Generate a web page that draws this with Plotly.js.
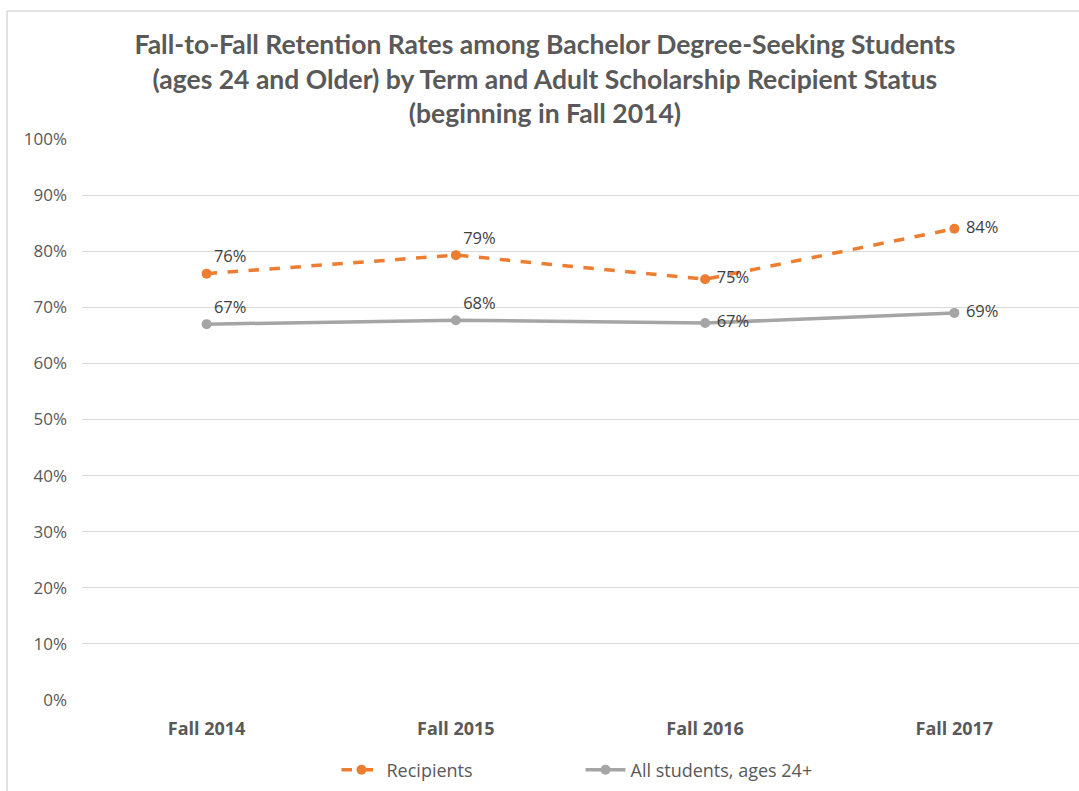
<!DOCTYPE html>
<html>
<head>
<meta charset="utf-8">
<script src="https://cdn.plot.ly/plotly-3.0.1.min.js"></script>
<style>html,body{margin:0;padding:0;background:#fff;}#chart{width:1079px;height:791px;}</style>
</head>
<body>
<div id="chart"></div>
<script>
const categories = ["Fall 2014", "Fall 2015", "Fall 2016", "Fall 2017"];
const recipients = [0.76, 0.793, 0.75, 0.84];
const allStudents = [0.67, 0.677, 0.672, 0.69];
const recipientsLabels = ["76%", "79%", "75%", "84%"];
const allStudentsLabels = ["67%", "68%", "67%", "69%"];
const labelPositions = ["top right", "top right", "middle right", "middle right"];
const yTickVals = [0, 0.1, 0.2, 0.3, 0.4, 0.5, 0.6, 0.7, 0.8, 0.9, 1.0];
const yTickText = ["0%", "10%", "20%", "30%", "40%", "50%", "60%", "70%", "80%", "90%", "100%"];

const font = "Open Sans, Noto Sans, sans-serif";
const textColor = "#595959";

// pad right-side labels slightly away from the marker
const pad = (labels) => labels.map((t, i) => labelPositions[i] === "middle right" ? "\u00a0" + t : t);

const traces = [
  {
    x: categories, y: recipients, name: "Recipients", type: "scatter", mode: "lines+markers+text",
    line: {color: "#ED7D31", width: 3.5, dash: "dash"},
    marker: {color: "#ED7D31", size: 10},
    text: pad(recipientsLabels), textposition: labelPositions,
    textfont: {family: font, size: 16.5, color: "#404040"},
    cliponaxis: false, hoverinfo: "skip"
  },
  {
    x: categories, y: allStudents, name: "All students, ages 24+", type: "scatter", mode: "lines+markers+text",
    line: {color: "#A5A5A5", width: 3.5},
    marker: {color: "#A5A5A5", size: 10},
    text: pad(allStudentsLabels), textposition: labelPositions,
    textfont: {family: font, size: 16.5, color: "#404040"},
    cliponaxis: false, hoverinfo: "skip"
  }
];

const layout = {
  width: 1079, height: 791,
  margin: {l: 82, r: 0, t: 139, b: 91},
  paper_bgcolor: "#ffffff", plot_bgcolor: "#ffffff",
  font: {family: font, color: textColor},
  title: {
    text: "<b>Fall-to-Fall Retention Rates among Bachelor Degree-Seeking Students<br>(ages 24 and Older) by Term and Adult Scholarship Recipient Status<br>(beginning in Fall 2014)</b>",
    font: {family: "Lato, Open Sans, sans-serif", size: 26.5, color: textColor},
    x: 0.505, xref: "container", xanchor: "center",
    y: 0.9316, yref: "container", yanchor: "middle"
  },
  xaxis: {
    type: "category", range: [-0.5, 3.5], showgrid: false, zeroline: false, showline: false,
    ticks: "", tickfont: {family: font, size: 18, color: textColor, weight: "bold"},
    ticklabelstandoff: 16, fixedrange: true
  },
  yaxis: {
    range: [0, 1], tickvals: yTickVals, ticktext: yTickText,
    showgrid: true, gridcolor: "#d9d9d9", gridwidth: 1,
    zeroline: false, showline: false, ticks: "",
    tickfont: {family: font, size: 17, color: textColor},
    ticklabelstandoff: 14, fixedrange: true
  },
  showlegend: true,
  legend: {
    orientation: "h", x: 0.5, xanchor: "center", y: -0.125, yanchor: "middle",
    font: {family: font, size: 18, color: textColor},
    itemwidth: 40, entrywidth: 189, entrywidthmode: "pixels"
  },
  shapes: [
    {type: "line", xref: "paper", yref: "paper", x0: -0.0752, x1: -0.0752, y0: 1.228, y1: -0.2, line: {color: "#d9d9d9", width: 1.5}},
    {type: "line", xref: "paper", yref: "paper", x0: -0.0752, x1: 1.01, y0: 1.228, y1: 1.228, line: {color: "#d9d9d9", width: 1.5}}
  ]
};

Plotly.newPlot("chart", traces, layout, {displayModeBar: false, staticPlot: true});
</script>
</body>
</html>
